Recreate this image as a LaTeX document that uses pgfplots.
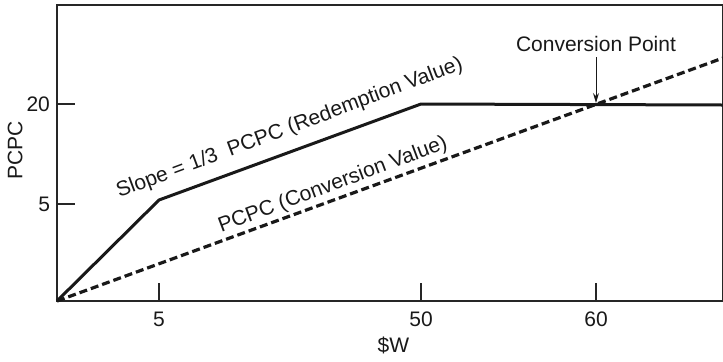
\documentclass[border=0pt]{standalone}
\usepackage{pgfplots}
\pgfplotsset{compat=1.18}
\usepackage{fontspec}
\setmainfont{Liberation Sans}
\usetikzlibrary{arrows.meta}

\begin{document}
\begin{tikzpicture}
\begin{axis}[
  scale only axis,
  width=333pt, height=148pt,
  xmin=0, xmax=666, ymin=0, ymax=296,
  axis line style={line width=1pt, black!85},
  xtick={102,364,539}, xticklabels={5,50,60},
  ytick={97,197}, yticklabels={5,20},
  tick align=inside, xtick pos=bottom, ytick pos=left,
  major tick length=9pt,
  tick style={line width=0.6pt, black!85},
  tick label style={font=\fontsize{10.5}{12}\selectfont, black!90},
  xticklabel style={yshift=-2pt},
  /pgf/number format/assume math mode=true,
  xlabel={\$W}, ylabel={PCPC},
  label style={font=\fontsize{10.5}{12}\selectfont, black!90},
  xlabel style={at={(axis description cs:0.505,-0.15)}, anchor=center},
  ylabel style={at={(axis description cs:-0.063,0.51)}, anchor=center},
  clip=false,
]
% redemption value (solid) and conversion value (dashed)
\addplot[line width=1.5pt, black!90] coordinates {(0,0) (102,101) (364,197) (666,196)};
\addplot[line width=1.6pt, black!90, dash pattern=on 4pt off 2pt] coordinates {(0,0) (666,243)};

\node[rotate=20.5, anchor=base west, inner sep=0pt, font=\fontsize{10.5}{12}\selectfont, black!90]
  at (axis cs:62,103) {Slope = 1/3\ \ PCPC (Redemption Value)};
\node[rotate=20.5, anchor=base west, inner sep=0pt, font=\fontsize{10.5}{12}\selectfont, black!90]
  at (axis cs:164,68) {PCPC (Conversion Value)};
\node[font=\fontsize{10.5}{12}\selectfont, black!90] at (axis cs:539,257) {Conversion Point};
\draw[line width=0.5pt, black!90, -{Stealth[length=5pt,width=3pt]}] (axis cs:539,244) -- (axis cs:539,198);

\coordinate (sw) at (rel axis cs:0,0);
\coordinate (ne) at (rel axis cs:1,1);
\end{axis}
\pgfresetboundingbox
\path[use as bounding box] ([xshift=-28.5pt,yshift=-30pt]sw) rectangle ([yshift=2.5pt]ne);
\end{tikzpicture}
\end{document}
